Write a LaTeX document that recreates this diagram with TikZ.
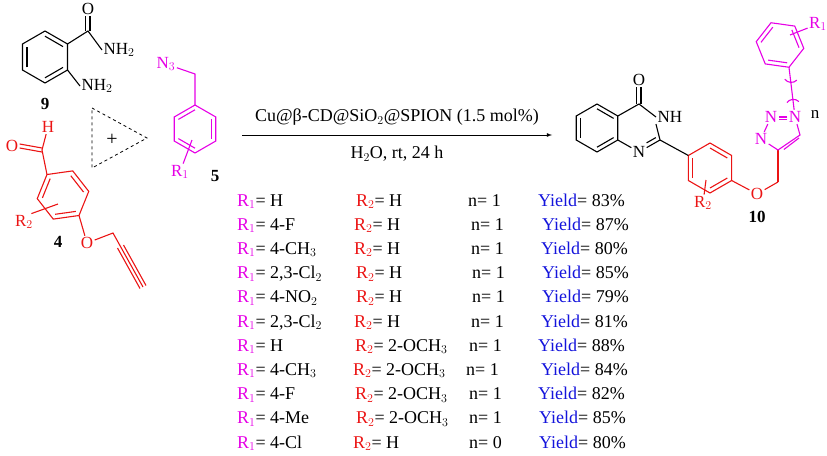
\documentclass[tikz,border=0pt]{standalone}
\usepackage{fontspec}
\setmainfont{Liberation Serif}
\usetikzlibrary{arrows}
\usetikzlibrary{calc}
\definecolor{mag}{RGB}{230,0,230}
\definecolor{rd}{RGB}{235,20,20}
\definecolor{bl}{RGB}{20,20,220}
\newcommand{\inbond}[3]{\draw ($(#1)!.2!(#3)$) -- ($(#2)!.2!(#3)$);}

\begin{document}
\begin{tikzpicture}[x=1pt, y=-1pt, line/.style={>=latex}, bond/.style={line width=1.1pt},
  atom/.style={inner sep=1pt, font=\fontsize{17}{19}\selectfont},
  num/.style={font=\fontsize{17}{19}\selectfont\bfseries},
  tab/.style={anchor=base west, inner sep=0pt, font=\fontsize{18}{20}\selectfont}]
\useasboundingbox (0,0) rectangle (827,455);

% compound 9
\begin{scope}[bond]
\coordinate (c9) at (45,57);
\foreach \a/\n in {90/1,30/2,330/3,270/4,210/5,150/6} \coordinate (q\n) at ($(c9)+({26*cos(\a)},{-26*sin(\a)})$);
\draw (q1) -- (q2) -- (q3) -- (q4) -- (q5) -- (q6) -- cycle;
\inbond{q1}{q2}{c9} \inbond{q3}{q4}{c9} \inbond{q5}{q6}{c9}
\coordinate (k9) at (88,31);
\node[atom] (o9) at (88,9) {O};
\node[atom, anchor=west] (am9) at (102,50) {NH$_2$};
\node[atom, anchor=west] (an9) at (80,86) {NH$_2$};
\draw (q2) -- (k9) -- (am9.west);
\draw ([xshift=-2.5pt]k9) -- ([xshift=-2.5pt]o9.south);
\draw ([xshift=2pt]k9) -- ([xshift=2pt]o9.south);
\draw (q3) -- (an9.west);
\node[num] (l9) at (45,104) {9};
\end{scope}

% dashed triangle
\draw[dashed, thick] (92,108) -- (147,138) -- (92,168) -- cycle;
\node[font=\fontsize{20}{22}\selectfont] (plus) at (112,140) {+};

% compound 4
\begin{scope}[bond, rd, text=rd]
\coordinate (c4) at (63,195);
\foreach \a/\n in {128/1,68/2,8/3,308/4,248/5,188/6} \coordinate (p\n) at ($(c4)+({26*cos(\a)},{-26*sin(\a)})$);
\draw (p1) -- (p2) -- (p3) -- (p4) -- (p5) -- (p6) -- cycle;
\inbond{p2}{p3}{c4} \inbond{p4}{p5}{c4} \inbond{p6}{p1}{c4}
\coordinate (k4) at (42,150);
\node[atom] (h4) at (48,127) {H};
\node[atom] (o4) at (12,146) {O};
\draw (p1) -- (k4) -- (h4);
\draw ([yshift=-2pt]k4) -- ([yshift=-2pt]o4.east);
\draw ([yshift=2pt]k4) -- ([yshift=2pt]o4.east);
\node[atom] (r2a) at (24,222) {R$_2$};
\draw ([xshift=-3pt]r2a.north east) -- (58,204);
\node[atom] (oe4) at (87,243) {O};
\coordinate (m4) at (113,233);
\coordinate (t4) at (143,287);
\draw (p4) -- (oe4) -- (m4) -- (t4);
\draw ($(m4)!.25!(t4)+(3,-1.5)$) -- ($(t4)+(3,-1.5)$);
\draw ($(m4)!.25!(t4)+(-3,1.5)$) -- ($(t4)+(-3,1.5)$);
\node[num, text=black] (l4) at (58,242) {4};
\end{scope}

% compound 5
\begin{scope}[bond, mag, text=mag]
\coordinate (c5) at (195,129);
\foreach \a/\n in {90/1,30/2,330/3,270/4,210/5,150/6} \coordinate (s\n) at ($(c5)+({24*cos(\a)},{-24*sin(\a)})$);
\draw (s1) -- (s2) -- (s3) -- (s4) -- (s5) -- (s6) -- cycle;
\inbond{s2}{s3}{c5} \inbond{s4}{s5}{c5} \inbond{s6}{s1}{c5}
\node[atom] (n5) at (166,64) {N$_3$};
\coordinate (m5) at (195,74);
\draw (n5) -- (m5) -- (s1);
\node[atom] (r1a) at (180,172) {R$_1$};
\draw (r1a) -- (192,140);
\node[num, text=black] (l5) at (215,176) {5};
\end{scope}

% arrow
\coordinate (ar1) at (242,135);
\coordinate (ar2) at (552,135);
\draw[->, line, thick] (ar1) -- (ar2);
\node[atom, font=\fontsize{18}{20}\selectfont] (cat) at (397,117) {Cu@β-CD@SiO$_2$@SPION (1.5 mol\%)};
\node[atom, font=\fontsize{18}{20}\selectfont] (cond) at (397,154) {H$_2$O, rt, 24 h};

% compound 10
\begin{scope}[bond]
\coordinate (cb) at (597,128);
\foreach \a/\n in {90/1,30/2,330/3,270/4,210/5,150/6} \coordinate (b\n) at ($(cb)+({24*cos(\a)},{-24*sin(\a)})$);
\draw (b1) -- (b2) -- (b3) -- (b4) -- (b5) -- (b6) -- cycle;
\inbond{b1}{b2}{cb} \inbond{b3}{b4}{cb} \inbond{b5}{b6}{cb}
\coordinate (cp) at (639,128);
\coordinate (k10) at (639,104);
\coordinate (c2) at (660,140);
\coordinate (n1c) at (639,152);
\node[atom] (o10) at (639,80) {O};
\node[atom, anchor=west] (nh10) at (656,117) {NH};
\node[atom] (n10) at (n1c) {N};
\draw (b2) -- (k10) -- (nh10.west);
\draw (nh10.south west) -- (c2) -- (n10) -- (b3);
\draw ($(c2)!.2!(cp)$) -- ($(c2)!.2!(cp)!.55!($(n1c)!.2!(cp)$)$);
\draw ([xshift=-2.5pt]k10) -- ([xshift=-2.5pt]o10.south);
\draw ([xshift=2pt]k10) -- ([xshift=2pt]o10.south);
\node[num] (l10) at (757,217) {10};
\end{scope}
\begin{scope}[bond, rd, text=rd]
\coordinate (cr) at (710,168);
\foreach \a/\n in {150/1,90/2,30/3,330/4,270/5,210/6} \coordinate (f\n) at ($(cr)+({25*cos(\a)},{-25*sin(\a)})$);
\draw (f1) -- (f2) -- (f3) -- (f4) -- (f5) -- (f6) -- cycle;
\inbond{f2}{f3}{cr} \inbond{f4}{f5}{cr} \inbond{f6}{f1}{cr}
\draw[black] (c2) -- (f1);
\node[atom] (o10b) at (757,194) {O};
\coordinate (m10) at (778,182);
\draw (f4) -- (o10b) -- (m10);
\node[atom] (r2b) at (703,203) {R$_2$};
\draw (r2b) -- (706,180);
\end{scope}
\begin{scope}[bond, mag, text=mag]
\coordinate (t4c) at (778,150);
\coordinate (t5c) at (800,135);
\node[atom] (tn1) at (795,117) {N};
\node[atom] (tn2) at (771,117) {N};
\node[atom] (tn3) at (761,139) {N};
\draw[rd] (m10) -- (t4c);
\draw (t4c) -- (t5c) -- (tn1);
\draw ($(t4c)!.2!(t5c)+(1.5,2.5)$) -- ($(t5c)+(-1,3)$);
\draw (tn1) -- (tn2);
\draw ([yshift=-2.5pt]tn1.west) -- ([yshift=-2.5pt]tn2.east);
\draw (tn2) -- (tn3);
\draw (tn3) -- (t4c);
\coordinate (ct) at (780,45);
\foreach \a/\n in {-68/1,-8/2,52/3,112/4,172/5,232/6} \coordinate (g\n) at ($(ct)+({24*cos(\a)},{-24*sin(\a)})$);
\draw (g1) -- (g2) -- (g3) -- (g4) -- (g5) -- (g6) -- cycle;
\inbond{g2}{g3}{ct} \inbond{g4}{g5}{ct} \inbond{g6}{g1}{ct}
\draw (tn1) -- (g1);
\draw ($(g1)!.3!(tn1)+(-6,-3)$) to[bend right=50] ($(g1)!.3!(tn1)+(6,-2)$);
\draw ($(g1)!.65!(tn1)+(-6,3)$) to[bend left=50] ($(g1)!.65!(tn1)+(6,2)$);
\node[atom, text=black] (nn) at (815,114) {n};
\node[atom] (r1b) at (818,24) {R$_1$};
\draw (r1b) -- (790,35);
\end{scope}

% table
\foreach \i/\ra/\rb/\xb/\nn/\xn/\xy/\y in {0/H/H/356/1/468/538/83, 1/4-F/H/354/1/471/542/87,
  2/4-CH$_3$/H/354/1/471/541/80, 3/{2,3-Cl$_2$}/H/356/1/472/542/85, 4/4-NO$_2$/H/356/1/472/542/79,
  5/{2,3-Cl$_2$}/H/354/1/471/541/81, 6/H/2-OCH$_3$/355/1/469/538/88, 7/4-CH$_3$/2-OCH$_3$/353/1/466/541/84,
  8/4-F/2-OCH$_3$/355/1/469/538/82, 9/4-Me/2-OCH$_3$/356/1/469/539/85, 10/4-Cl/H/353/0/469/539/80} {
  \node[tab] (ra\i) at (237,206+24.2*\i) {\textcolor{mag}{R$_1$}= \ra};
  \node[tab] (rb\i) at (\xb,206+24.2*\i) {\textcolor{rd}{R$_2$}= \rb};
  \node[tab] (nn\i) at (\xn,206+24.2*\i) {n= \nn};
  \node[tab] (yi\i) at (\xy,206+24.2*\i) {\textcolor{bl}{Yield}= \y\%};
}
\end{tikzpicture}
\end{document}
